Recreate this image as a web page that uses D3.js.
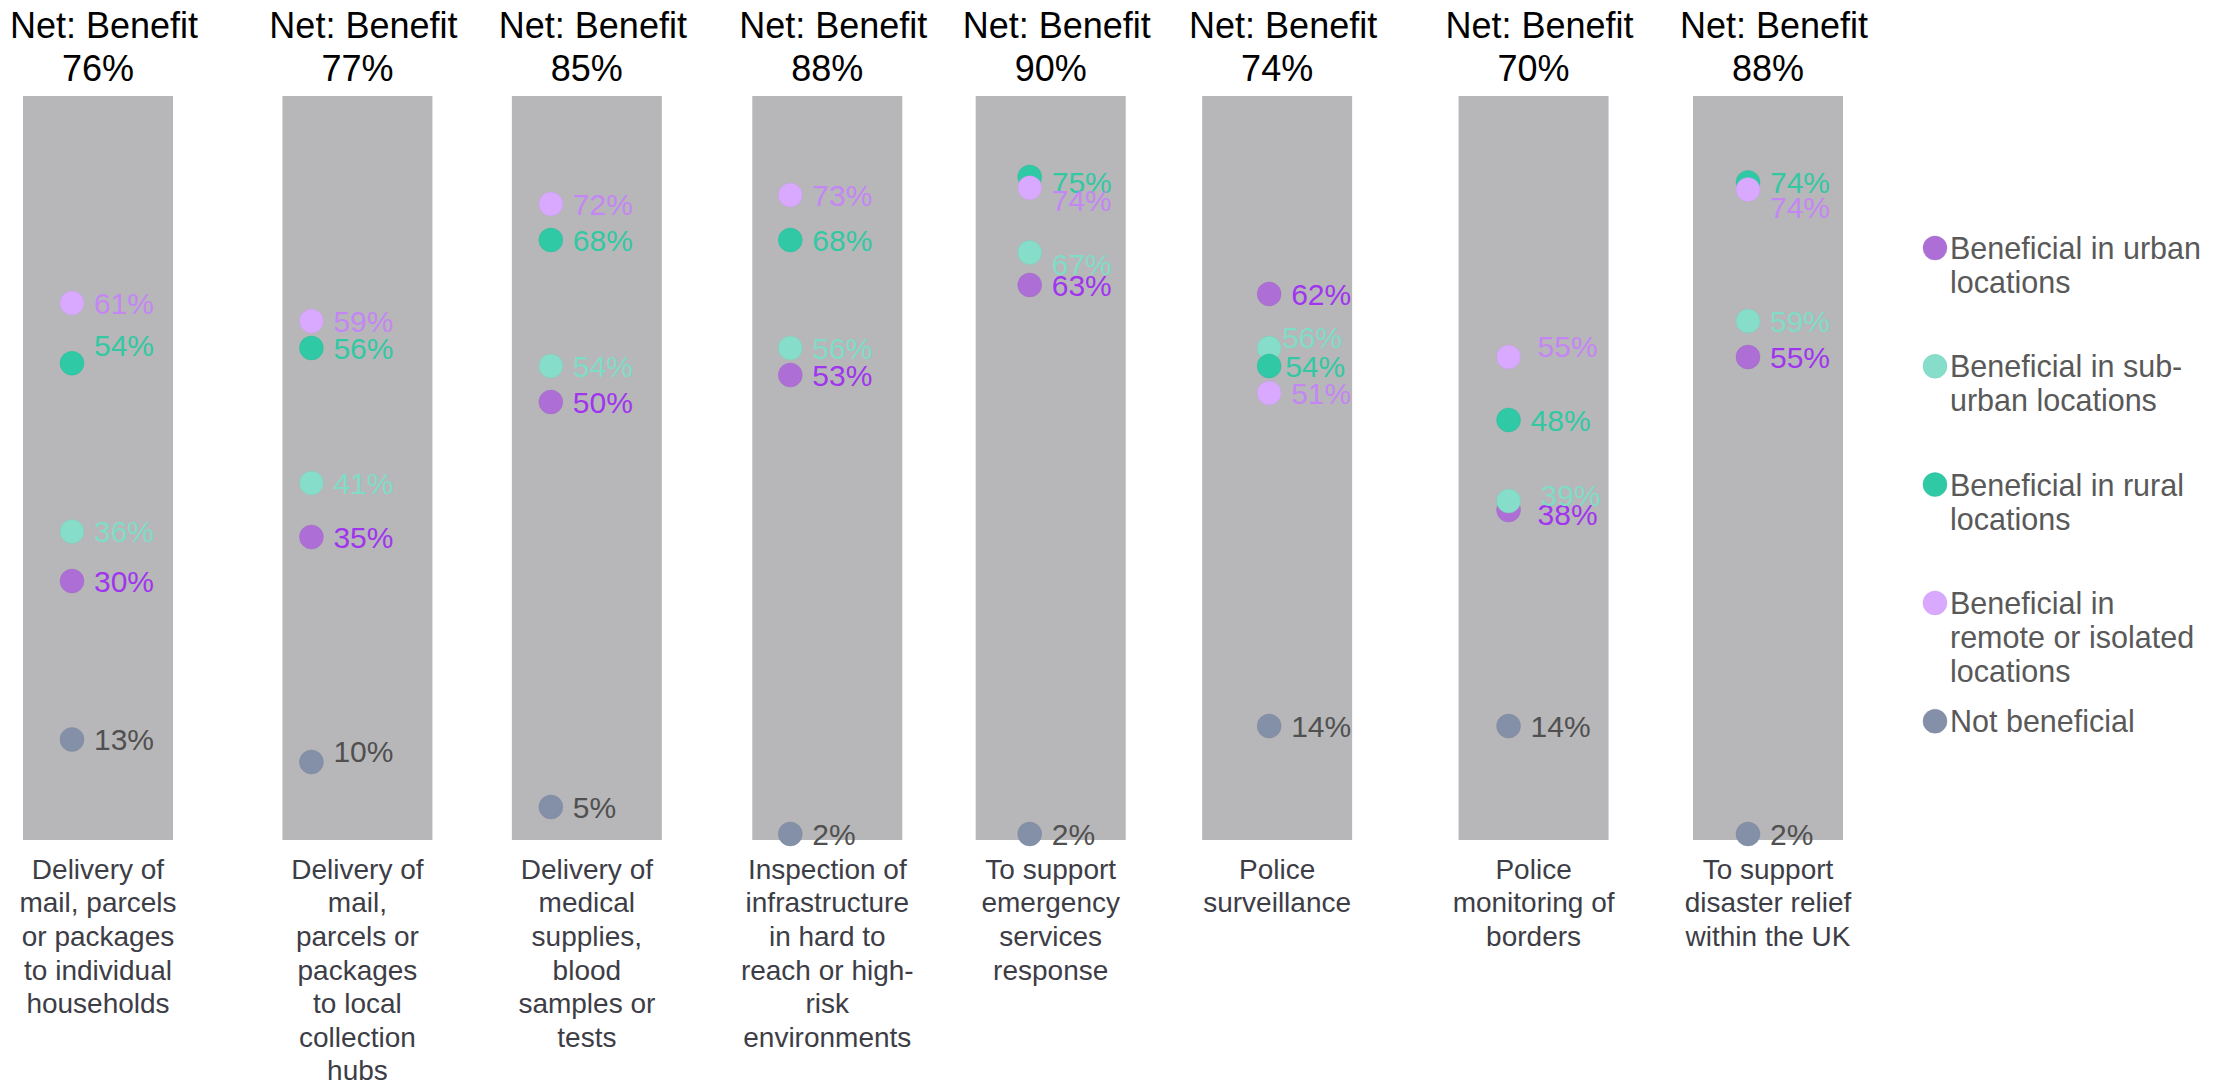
<!DOCTYPE html>
<html>
<head>
<meta charset="utf-8">
<script src="https://cdn.jsdelivr.net/npm/d3@7"></script>
<style>
  html, body { margin: 0; padding: 0; background: #ffffff; }
  svg { display: block; }
  text { font-family: "Liberation Sans", Arial, sans-serif; }
</style>
</head>
<body>
<svg id="chart" width="2233" height="1088"></svg>
<script>
// ---------------- DATA ----------------
const categories = [
  ["Delivery of", "mail, parcels", "or packages", "to individual", "households"],
  ["Delivery of", "mail,", "parcels or", "packages", "to local", "collection", "hubs"],
  ["Delivery of", "medical", "supplies,", "blood", "samples or", "tests"],
  ["Inspection of", "infrastructure", "in hard to", "reach or high-", "risk", "environments"],
  ["To support", "emergency", "services", "response"],
  ["Police", "surveillance"],
  ["Police", "monitoring of", "borders"],
  ["To support", "disaster relief", "within the UK"]
];
const netBenefit = [76, 77, 85, 88, 90, 74, 70, 88];

const seriesNames = [
  ["Beneficial in urban", "locations"],
  ["Beneficial in sub-", "urban locations"],
  ["Beneficial in rural", "locations"],
  ["Beneficial in", "remote or isolated", "locations"],
  ["Not beneficial"]
];
const urban    = [30.1, 35, 50, 53, 63, 62, 38, 55];
const suburban = [35.6, 41, 54, 56, 66.6, 56, 39, 59];
const rural    = [54.3, 56, 68, 68, 75, 54, 48, 74.4];
const remote   = [61, 59, 72, 73, 73.8, 51, 55, 73.6];
const notBen   = [12.5, 10, 5, 2, 2, 14, 14, 2];
const seriesValues = [urban, suburban, rural, remote, notBen];

// ---------------- LAYOUT / STYLE ----------------
const dotColors   = ["#ad6fd5", "#86ddc9", "#2fc9a5", "#d8a9fe", "#8490a8"];
const labelColors = ["#a035ee", "#7fdcc6", "#33c8a2", "#c486f2", "#505050"];
// small label nudges (px) to reproduce overlap avoidance
const labelDy = [
  [0, 0, 0, 0, 0, 0, 4, 0],
  [0, 0, 0, 0, 12, -11, -6, 0],
  [-18, 0, 0, 0, 5, 0, 0, 0],
  [0, 0, 0, 0, 12, 0, -11, 18],
  [0, -11, 0, 0, 0, 0, 0, 0]
];
const labelDx = [
  [0, 0, 0, 0, 0, 0, 7, 0],
  [0, 0, 0, 0, 0, -9, 10, 0],
  [0, 0, 0, 0, 0, -6, 0, 0],
  [0, 0, 0, 0, 0, 0, 7, 0],
  [0, 0, 0, 0, 0, 0, 0, 0]
];
// panel (grey column) offsets relative to the dot positions
const panelShift = [26, 46, 36, 37, 21, 8, 25, 20];
const panelWidth = 150;
const panelBottom = 840;

const svg = d3.select("#chart");
const idx = d3.range(categories.length);

const x = d3.scalePoint().domain(idx).range([72, 1748]);
const y = d3.scaleLinear().domain([0, 84]).range([852, 96]);

// grey panels
svg.append("g").selectAll("rect").data(idx).join("rect")
  .attr("x", i => x(i) + panelShift[i] - panelWidth / 2)
  .attr("y", y(84))
  .attr("width", panelWidth)
  .attr("height", panelBottom - y(84))
  .attr("fill", "#b7b7b9");

// titles
const titles = svg.append("g").selectAll("text").data(idx).join("text")
  .attr("text-anchor", "middle")
  .attr("font-size", 36)
  .attr("fill", "#000");
titles.append("tspan")
  .attr("x", i => x(i) + panelShift[i] + 6)
  .attr("y", 38)
  .text("Net: Benefit");
titles.append("tspan")
  .attr("x", i => x(i) + panelShift[i])
  .attr("y", 81)
  .text(i => netBenefit[i] + "%");

// category labels
const cat = svg.append("g").selectAll("text").data(idx).join("text")
  .attr("text-anchor", "middle")
  .attr("font-size", 28)
  .attr("fill", "#3d3d46");
cat.each(function(i) {
  d3.select(this).selectAll("tspan").data(categories[i]).join("tspan")
    .attr("x", x(i) + panelShift[i])
    .attr("y", (d, k) => 869 + k * 33.6)
    .attr("dy", "0.35em")
    .text(d => d);
});

// dots and labels (series order = draw order)
const fmt = v => Math.round(v) + "%";
seriesValues.forEach((vals, s) => {
  const g = svg.append("g");
  g.selectAll("circle").data(idx).join("circle")
    .attr("cx", i => x(i))
    .attr("cy", i => y(vals[i]))
    .attr("r", 12)
    .attr("fill", dotColors[s])
    .attr("stroke", d3.color(dotColors[s]).darker(0.3))
    .attr("stroke-opacity", 0.35)
    .attr("stroke-width", 1);
  g.selectAll("text").data(idx).join("text")
    .attr("x", i => x(i) + 22 + labelDx[s][i])
    .attr("y", i => y(vals[i]) + labelDy[s][i])
    .attr("dy", "0.36em")
    .attr("font-size", 30)
    .attr("fill", labelColors[s])
    .text(i => fmt(vals[i]));
});

// legend
const legend = svg.append("g").selectAll("g").data(seriesNames).join("g")
  .attr("transform", (d, s) => `translate(1935, ${248 + s * 118.3})`);
legend.append("circle")
  .attr("r", 12)
  .attr("fill", (d, s) => dotColors[s])
  .attr("stroke", (d, s) => d3.color(dotColors[s]).darker(0.3))
  .attr("stroke-opacity", 0.35);
legend.append("text")
  .attr("font-size", 30.5)
  .attr("fill", "#595959")
  .each(function(lines) {
    d3.select(this).selectAll("tspan").data(lines).join("tspan")
      .attr("x", 15)
      .attr("y", (d, k) => k * 34)
      .attr("dy", "0.36em")
      .text(d => d);
  });
</script>
</body>
</html>
